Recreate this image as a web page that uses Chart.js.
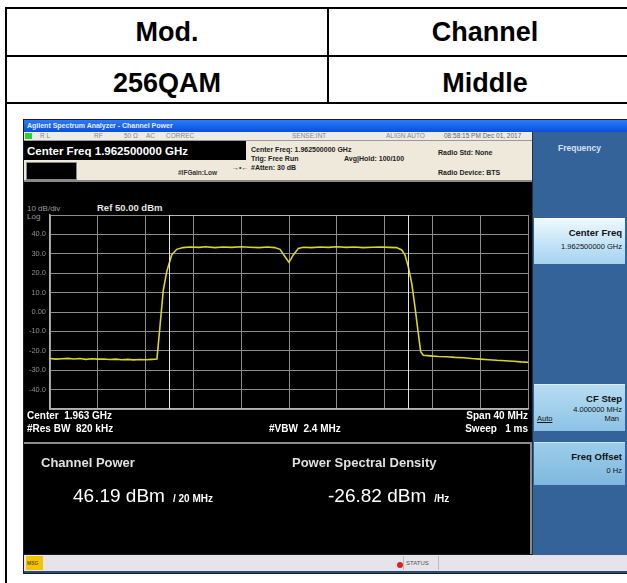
<!DOCTYPE html>
<html>
<head>
<meta charset="utf-8">
<script src="https://cdn.jsdelivr.net/npm/chart.js@4.4.1/dist/chart.umd.min.js"></script>
<style>
  html, body { margin: 0; padding: 0; background: #fff; }
  body { width: 627px; height: 583px; position: relative; overflow: hidden; font-family: "Liberation Sans", Arial, sans-serif; }
  .abs { position: absolute; }
  .ln { position: absolute; background: #000; }
  .cell { position: absolute; font-weight: bold; font-size: 27px; text-align: center; line-height: 27px; }
  .wt { position: absolute; white-space: nowrap; color: #fff; font-weight: bold; line-height: 1; }
  .st { position: absolute; white-space: nowrap; color: #888; font-size: 6.5px; line-height: 1; top: 1px; }
  .btn { position: absolute; left: 534px; width: 91px; text-align: right; }
  .btn div { white-space: nowrap; padding-right: 3px; }
</style>
</head>
<body>
<!-- table frame -->
<div class="ln" style="left:5px;top:7px;width:2px;height:576px"></div>
<div class="ln" style="left:5px;top:7px;width:640px;height:2px"></div>
<div class="ln" style="left:5px;top:55px;width:640px;height:2px"></div>
<div class="ln" style="left:5px;top:102px;width:640px;height:2px"></div>
<div class="ln" style="left:327px;top:7px;width:2px;height:97px"></div>
<div class="cell" style="left:7px;width:320px;top:19px">Mod.</div>
<div class="cell" style="left:329px;width:312px;top:19px">Channel</div>
<div class="cell" style="left:7px;width:320px;top:70px">256QAM</div>
<div class="cell" style="left:329px;width:312px;top:70px">Middle</div>

<!-- analyzer screen -->
<div class="abs" style="left:23px;top:119px;width:604px;height:455px;background:#1c1c1c"></div>
<div class="abs" style="left:24px;top:120px;width:603px;height:12px;background:linear-gradient(#2a7cff,#0a4fd8)"></div>
<div class="wt" style="left:27px;top:122px;font-size:7px;color:#e8eeff">Agilent Spectrum Analyzer - Channel Power</div>

<!-- status row -->
<div class="abs" style="left:24px;top:132px;width:508px;height:8px;background:#ecebe6;border-bottom:1px solid #999">
  <div class="abs" style="left:1px;top:1px;width:7px;height:6px;background:#2ad12a"></div>
  <div class="st" style="left:16px">R L</div>
  <div class="st" style="left:70px">RF</div>
  <div class="st" style="left:100px">50 Ω</div>
  <div class="st" style="left:122px">AC</div>
  <div class="st" style="left:142px">CORREC</div>
  <div class="st" style="left:268px">SENSE:INT</div>
  <div class="st" style="left:362px">ALIGN AUTO</div>
  <div class="st" style="left:420px;color:#666">08:58:15 PM Dec 01, 2017</div>
</div>

<!-- header info -->
<div class="abs" style="left:24px;top:141px;width:508px;height:39px;background:#efe9dc"></div>
<div class="abs" style="left:24px;top:141px;width:222px;height:19px;background:#000"></div>
<div class="wt" style="left:27px;top:146px;font-size:11.5px">Center Freq 1.962500000 GHz</div>
<div class="abs" style="left:26px;top:162px;width:49px;height:16px;background:#000;border:1px solid #888"></div>
<div class="wt" style="left:232px;top:164px;font-size:7px;color:#333">→•←</div>
<div class="wt" style="left:178px;top:170px;font-size:6.5px;color:#333">#IFGain:Low</div>
<div class="wt" style="left:251px;top:146px;font-size:7px;color:#222">Center Freq: 1.962500000 GHz</div>
<div class="wt" style="left:251px;top:155px;font-size:7px;color:#222">Trig: Free Run</div>
<div class="wt" style="left:251px;top:164px;font-size:7px;color:#222">#Atten: 30 dB</div>
<div class="wt" style="left:344px;top:155px;font-size:7px;color:#222">Avg|Hold: 100/100</div>
<div class="wt" style="left:438px;top:149px;font-size:7px;color:#222">Radio Std: None</div>
<div class="wt" style="left:438px;top:169px;font-size:7px;color:#222">Radio Device: BTS</div>
<div class="abs" style="left:24px;top:180px;width:508px;height:2px;background:#8a8a8a"></div>

<!-- graph area -->
<div class="abs" style="left:24px;top:182px;width:508px;height:261px;background:#000"></div>
<div class="wt" style="left:27px;top:205px;font-size:8px;font-weight:normal;color:#9a9a9a">10 dB/div</div>
<div class="wt" style="left:27px;top:213px;font-size:8px;font-weight:normal;color:#9a9a9a">Log</div>
<div class="wt" style="left:97px;top:203px;font-size:9.5px;color:#e6e6e6">Ref 50.00 dBm</div>
<div class="abs" style="left:24px;top:182px;width:507px;height:261px"><canvas id="trace" width="507" height="261"></canvas></div>
<div class="wt" style="left:27px;top:411px;font-size:10px">Center&nbsp; 1.963 GHz</div>
<div class="wt" style="left:27px;top:424px;font-size:10px">#Res BW&nbsp; 820 kHz</div>
<div class="wt" style="left:269px;top:424px;font-size:10px">#VBW&nbsp; 2.4 MHz</div>
<div class="wt" style="left:428px;width:100px;text-align:right;top:411px;font-size:10px">Span 40 MHz</div>
<div class="wt" style="left:428px;width:100px;text-align:right;top:424px;font-size:10px">Sweep&nbsp;&nbsp; 1 ms</div>
<div class="abs" style="left:24px;top:442px;width:508px;height:2px;background:#8a8a8a"></div>

<!-- result panel -->
<div class="abs" style="left:24px;top:444px;width:506px;height:110px;background:#000;border-right:2px solid #8a8a8a"></div>
<div class="wt" style="left:41px;top:456px;font-size:13px;color:#e0e0e0">Channel Power</div>
<div class="wt" style="left:73px;top:486px;font-size:19px;font-weight:normal">46.19 dBm <span style="font-size:10px;font-weight:bold">&nbsp;/ 20 MHz</span></div>
<div class="wt" style="left:292px;top:456px;font-size:13px;color:#e0e0e0">Power Spectral Density</div>
<div class="wt" style="left:328px;top:486px;font-size:19px;font-weight:normal">-26.82 dBm <span style="font-size:10px;font-weight:bold">&nbsp;/Hz</span></div>

<!-- status bar -->
<div class="abs" style="left:24px;top:555px;width:603px;height:16px;background:#e6e4ea"></div>
<div class="abs" style="left:26px;top:556px;width:17px;height:14px;background:#f5c400"></div>
<div class="wt" style="left:27px;top:561px;font-size:5px;color:#7a5a00">MSG</div>
<div class="abs" style="left:403px;top:556px;width:34px;height:14px;border-left:1px solid #bbb;border-right:1px solid #bbb"></div>
<div class="abs" style="left:397px;top:562px;width:6px;height:6px;border-radius:3px;background:#e02020"></div>
<div class="wt" style="left:406px;top:560px;font-size:6px;font-weight:normal;color:#555">STATUS</div>
<div class="abs" style="left:24px;top:571px;width:603px;height:2px;background:#2a4a7a"></div>

<!-- softkey panel -->
<div class="abs" style="left:532px;top:132px;width:95px;height:423px;background:#34639a;border-left:1px solid #1a3050"></div>
<div class="wt" style="left:534px;width:91px;text-align:center;top:144px;font-size:8.5px;color:#d6e2f0">Frequency</div>
<div class="btn" style="top:218px;height:45px;background:linear-gradient(#eef8fe,#bfe2f6 60%,#a6d2ee);border-top:1px solid #fff">
  <div class="wt" style="position:static;color:#111;font-size:9.5px;margin-top:9px">Center Freq</div>
  <div class="wt" style="position:static;color:#111;font-size:7.5px;font-weight:normal;margin-top:5px">1.962500000 GHz</div>
</div>
<div class="btn" style="top:384px;height:46px;background:linear-gradient(#b6dcf2,#8cc3e5);border-top:1px solid #d8eefa">
  <div class="wt" style="position:static;color:#111;font-size:9.5px;margin-top:9px">CF Step</div>
  <div class="wt" style="position:static;color:#111;font-size:7.5px;font-weight:normal;margin-top:2px">4.000000 MHz</div>
  <div class="wt" style="position:static;color:#111;font-size:7.5px;font-weight:normal;margin-top:2px;text-align:left;padding-left:3px"><u>Auto</u><span style="float:right;padding-right:3px">Man</span></div>
</div>
<div class="btn" style="top:442px;height:42px;background:linear-gradient(#9ccdea,#7fb8de);border-top:1px solid #c8e6f6">
  <div class="wt" style="position:static;color:#111;font-size:9.5px;margin-top:9px">Freq Offset</div>
  <div class="wt" style="position:static;color:#111;font-size:7.5px;font-weight:normal;margin-top:5px">0 Hz</div>
</div>

<script>
// trace: offset from 1.9625 GHz centre (MHz) vs level (dBm)
const traceFreqMHz = [
  -20, -19.5, -19, -18.5, -18, -17.5, -17, -16.5, -16, -15.5, -15, -14.5, -14, -13.5,
  -13, -12.5, -12, -11.5, -11.05, -10.8, -10.52, -10.23, -9.82, -9.4, -8.87, -8.3,
  -7.5, -7, -6.2, -5.5, -4.8, -4, -3.3, -2.5, -1.8, -1.2, -0.75, -0.33, 0, 0.36,
  0.78, 1.2, 1.9, 2.6, 3.3, 4, 4.8, 5.5, 6.2, 7, 7.7, 8.4, 9.01, 9.43, 9.71, 9.98,
  10.27, 10.54, 10.82, 11.02, 11.24, 11.8, 12.5, 13.2, 13.9, 14.6, 15.3, 16, 16.7,
  17.4, 18.1, 18.8, 19.4, 20
];
const traceLevelDbm = [
  -24.0, -24.3, -24.1, -23.9, -24.2, -24.0, -24.4, -24.1, -24.3, -24.2, -24.5, -24.3, -24.6, -24.4,
  -24.7, -24.5, -24.6, -24.4, -24.2, -7.6, 11.3, 20.8, 29.4, 32.3, 33.2, 33.5,
  33.3, 33.6, 33.2, 33.5, 33.3, 33.6, 33.4, 33.2, 33.5, 33.2, 32.3, 28.5, 25.6, 29.4,
  32.8, 33.4, 33.2, 33.5, 33.3, 33.6, 33.3, 33.5, 33.2, 33.4, 33.5, 33.3, 33.2, 32.0, 29.4, 23.4,
  14.8, 2.7, -11.0, -20.5, -22.3, -22.6, -22.9, -23.1, -23.4, -23.6, -24.0, -24.3, -24.6,
  -24.9, -25.1, -25.4, -25.7, -25.9
];
const channelEdgeMHz = [-10, 10];
const spanMHz = [-20, 20];
const refLevelDbm = 50;
const bottomLevelDbm = -50;
const dbPerDiv = 10;
const freqPerDivMHz = 4;

const tracePoints = traceFreqMHz.map((f, i) => ({ x: f, y: traceLevelDbm[i] }));
const channelBox = [
  { x: channelEdgeMHz[0], y: bottomLevelDbm },
  { x: channelEdgeMHz[0], y: refLevelDbm },
  { x: channelEdgeMHz[1], y: refLevelDbm },
  { x: channelEdgeMHz[1], y: bottomLevelDbm }
];

new Chart(document.getElementById('trace').getContext('2d'), {
  type: 'line',
  data: {
    datasets: [{
      data: channelBox,
      borderColor: '#e4e4e4',
      borderWidth: 1,
      pointRadius: 0,
      fill: false
    }, {
      data: tracePoints,
      borderColor: '#d8d626',
      borderWidth: 1.6,
      pointRadius: 0,
      tension: 0,
      fill: false
    }]
  },
  options: {
    responsive: false,
    animation: false,
    events: [],
    layout: { padding: { left: 0, top: 33, right: 3, bottom: 34 } },
    plugins: { legend: { display: false }, tooltip: { enabled: false } },
    scales: {
      x: {
        type: 'linear',
        min: spanMHz[0],
        max: spanMHz[1],
        ticks: { display: false, stepSize: freqPerDivMHz },
        grid: { color: '#8c8c8c', lineWidth: 1, drawTicks: false },
        border: { color: '#b4b4b4', width: 1.5 },
        afterFit: (scale) => { scale.height = 0; }
      },
      y: {
        min: bottomLevelDbm,
        max: refLevelDbm,
        ticks: {
          stepSize: dbPerDiv,
          padding: 4,
          color: '#8e8e8e',
          font: { family: 'Liberation Sans', size: 7.5 },
          callback: (v) => (v === refLevelDbm || v === bottomLevelDbm) ? '' : (v === 0 ? '0.00' : v.toFixed(1))
        },
        grid: { color: '#8c8c8c', lineWidth: 1, drawTicks: false },
        border: { color: '#b4b4b4', width: 1.5 },
        afterFit: (scale) => { scale.width = 26; }
      }
    }
  }
});
</script>
</body>
</html>
